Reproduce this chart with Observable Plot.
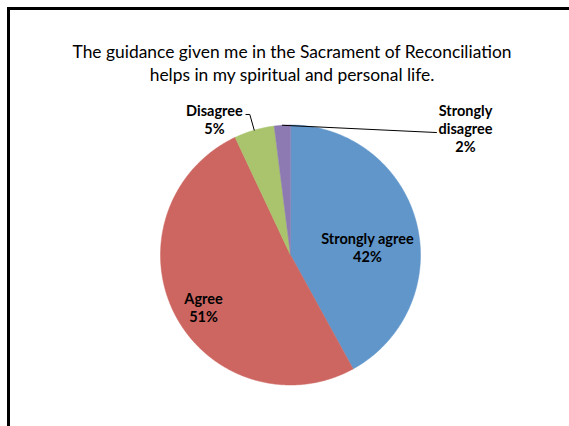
<!DOCTYPE html>
<html>
<head>
<meta charset="utf-8">
<script src="https://cdn.jsdelivr.net/npm/d3@7"></script>
<script src="https://cdn.jsdelivr.net/npm/@observablehq/plot@0.6"></script>
<style>
  html, body { margin: 0; padding: 0; background: #fff; overflow: hidden; width: 569px; height: 426px; }
  #wrap { position: relative; width: 569px; height: 426px; overflow: hidden; }
  #frame { position: absolute; left: 7px; top: 7px; width: 562px; height: 419px;
           border-left: 3px solid #000; border-top: 3px solid #000; box-sizing: border-box; }
  #title { position: absolute; left: 15px; top: 40px; width: 554px; text-align: center;
           font-family: Lato, "Open Sans", sans-serif; font-size: 17.4px; line-height: 23px; color: #000; white-space: nowrap; }
  #chart { position: absolute; left: 0; top: 0; }
  #chart svg { display: block; }
</style>
</head>
<body>
<div id="wrap">
  <div id="chart"></div>
  <div id="frame"></div>
  <div id="title">The guidance given me in the Sacrament of Reconciliation<br>helps in my spiritual and personal life.</div>
</div>
<script>
const categories = ["Strongly agree", "Agree", "Disagree", "Strongly disagree"];
const values = [42, 51, 5, 2];
const labelLines = [["Strongly agree", "42%"], ["Agree", "51%"], ["Disagree", "5%"], ["Strongly", "disagree", "2%"]];
const colors = ["#6096CA", "#CD6660", "#A9C46C", "#8E7AB3"];

// label placement (unit-circle coordinates) and leader-line ends
const labelPos = [[0.592, 0.05], [-0.669, -0.412], [-0.585, 1.035], [1.346, 0.965]];
const leaderEnd = [null, null, [[-0.313, 1.081], [-0.343, 1.081]], [[1.123, 0.942]]];

const pie = d3.pie().sort(null).value(d => d.value).startAngle(0).endAngle(2 * Math.PI);
const data = categories.map((c, i) => ({category: c, value: values[i], color: colors[i]}));
const arcs = pie(data);

// polygon points for each slice
const pts = [];
arcs.forEach((a, i) => {
  pts.push({k: i, x: 0, y: 0});
  const n = Math.max(2, Math.ceil((a.endAngle - a.startAngle) / (Math.PI / 360)));
  for (let j = 0; j <= n; j++) {
    const t = a.startAngle + (a.endAngle - a.startAngle) * j / n;
    pts.push({k: i, x: Math.sin(t), y: Math.cos(t)});
  }
});

// labels
const texts = [];
labelLines.forEach((lines, i) => {
  const [lx, ly] = labelPos[i];
  const lh = 18 / 130;
  lines.forEach((s, j) => {
    texts.push({x: lx, y: ly - (j - (lines.length - 1) / 2) * lh, s});
  });
});

// leader lines
const leaders = [];
arcs.forEach((a, i) => {
  if (!leaderEnd[i]) return;
  const m = (a.startAngle + a.endAngle) / 2;
  leaders.push({k: i, x: Math.sin(m), y: Math.cos(m)});
  leaderEnd[i].forEach(p => leaders.push({k: i, x: p[0], y: p[1]}));
});

const chart = Plot.plot({
  width: 540,
  height: 420,
  marginLeft: 160,
  marginRight: 120,
  marginTop: 124.5,
  marginBottom: 35.5,
  x: {domain: [-1, 1], axis: null},
  y: {domain: [-1, 1], axis: null},
  style: {background: "transparent"},
  marks: [
    Plot.line(pts, {x: "x", y: "y", z: "k", fill: d => colors[d.k], stroke: d => colors[d.k], strokeWidth: 0.5, curve: "linear-closed"}),
    Plot.line(leaders, {x: "x", y: "y", z: "k", stroke: "#000", strokeWidth: 1}),
    Plot.text(texts, {x: "x", y: "y", text: "s", fontFamily: "Lato, 'Open Sans', sans-serif", fontWeight: "bold", fontSize: 14.5, fill: "#000"})
  ]
});
document.getElementById("chart").appendChild(chart);
</script>
</body>
</html>
